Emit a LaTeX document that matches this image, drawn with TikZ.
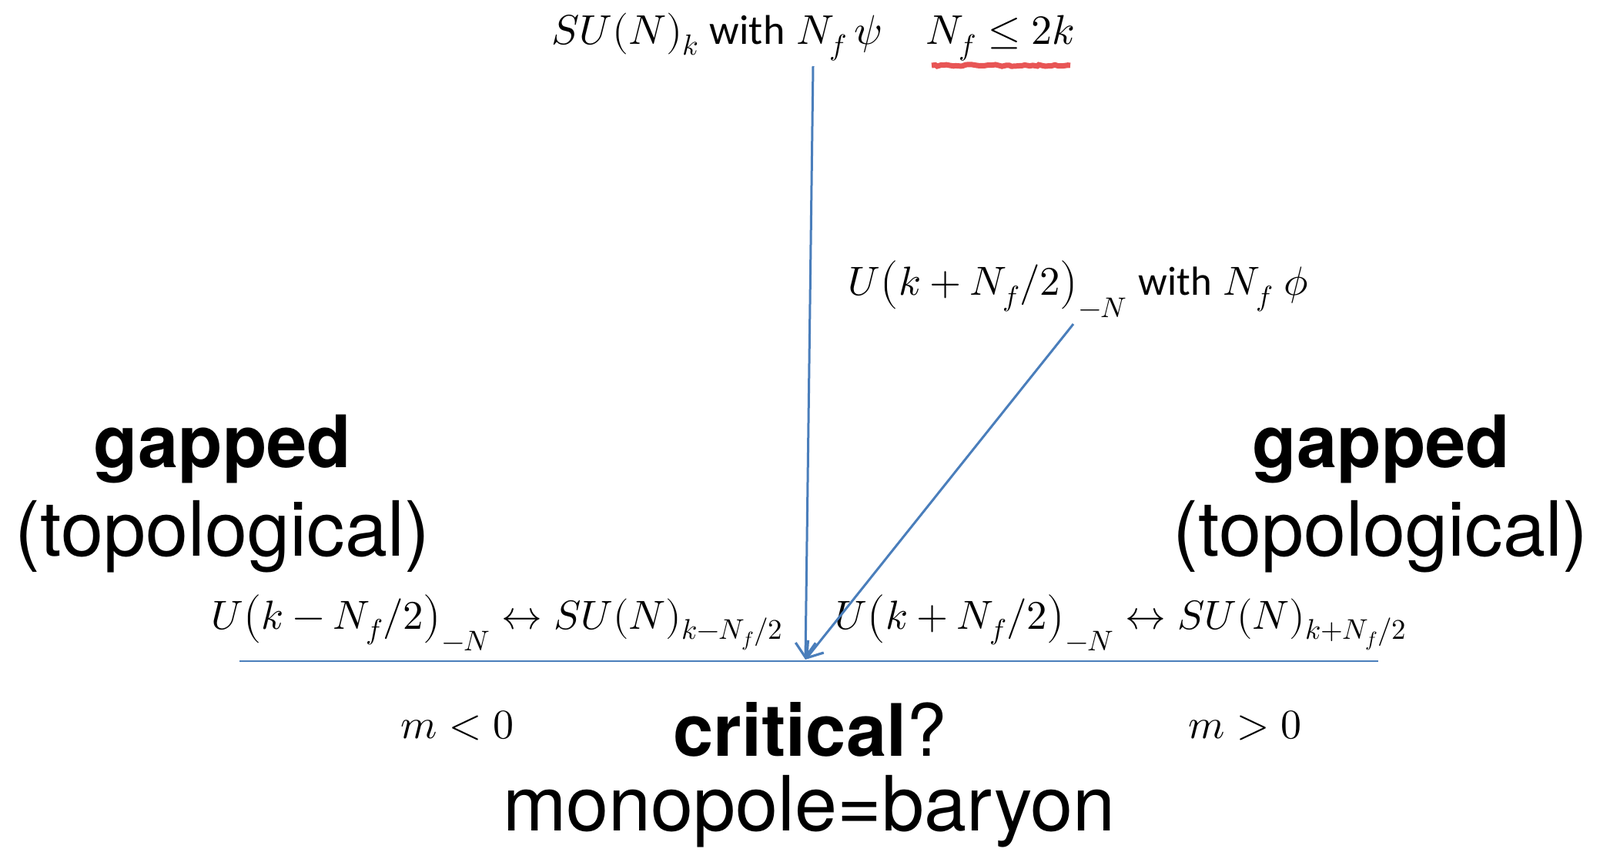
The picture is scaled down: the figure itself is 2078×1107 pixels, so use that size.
\documentclass[tikz,border=0pt]{standalone}
\usepackage{fontspec}
\usepackage{unicode-math}
\setmainfont{TeX Gyre Heros}
\setmathfont{Latin Modern Math}
\newfontfamily\calib{Carlito}
\usetikzlibrary{arrows.meta,decorations.pathmorphing}
\definecolor{lineblue}{RGB}{74,126,187}
\definecolor{squig}{RGB}{232,85,85}
\begin{document}
\begin{tikzpicture}[x=1pt,y=-1pt,
  mathlbl/.style={inner sep=0pt, font=\fontsize{54}{60}\selectfont},
  phaselbl/.style={inner sep=0pt, font=\fontsize{52.8}{60}\selectfont},
  boldlbl/.style={inner sep=0pt, font=\fontsize{94}{100}\selectfont\bfseries},
  lightlbl/.style={inner sep=0pt, font=\fontsize{99}{104}\selectfont},
  conn/.style={draw=lineblue, line width=3pt, -{Straight Barb[length=19pt,width=26pt,line width=3.2pt]}},
  axis/.style={draw=lineblue, line width=2.3pt}
]
\fill[white] (0,0) rectangle (2078,1107);
\useasboundingbox (0,0) rectangle (2078,1107);

% top labels
\node[mathlbl, anchor=base west] (top) at (716,58) {$SU(N)_k$ {\calib with} $N_f\,\psi$};
\node[mathlbl, anchor=base west] (cond) at (1202,58) {$N_f \le 2k$};
\draw[squig, line width=7pt, decorate, decoration={random steps, segment length=4pt, amplitude=1.2pt}] (1210,85) -- (1390,85);

\node[phaselbl, anchor=base west] (dual) at (1101,384) {$U\!\left(k+N_f/2\right)_{-N}$ {\calib with} $N_f\ \phi$};

% side labels
\node[boldlbl, anchor=base] (gapL) at (289,607) {gapped};
\node[lightlbl, anchor=base] (topL) at (289,722) {(topological)};
\node[boldlbl, anchor=base] (gapR) at (1794,607) {gapped};
\node[lightlbl, anchor=base] (topR) at (1793,722) {(topological)};

% phase labels
\node[phaselbl, anchor=base west] (phL) at (274,817) {$U\!\left(k-N_f/2\right)_{-N}\leftrightarrow SU(N)_{k-N_f/2}$};
\node[phaselbl, anchor=base west] (phR) at (1084,817) {$U\!\left(k+N_f/2\right)_{-N}\leftrightarrow SU(N)_{k+N_f/2}$};

\node[mathlbl, anchor=base] (mneg) at (594,959) {$m<0$};
\node[mathlbl, anchor=base] (mpos) at (1617,959) {$m>0$};

\node[boldlbl, anchor=base] (crit) at (1052,982) {critical{\mdseries ?}};
\node[lightlbl, anchor=base] (mono) at (1051,1079) {monopole=baryon};

% axis and flows
\coordinate (axL) at (311,859);
\coordinate (axR) at (1790,859);
\coordinate (fp) at (1046,857);
\coordinate (vs) at (1056,86);
\coordinate (ds) at (1394,421);
\draw[axis] (axL) -- (axR);
\draw[conn] (vs) -- (fp);
\draw[conn] (ds) -- (fp);
\end{tikzpicture}
\end{document}
